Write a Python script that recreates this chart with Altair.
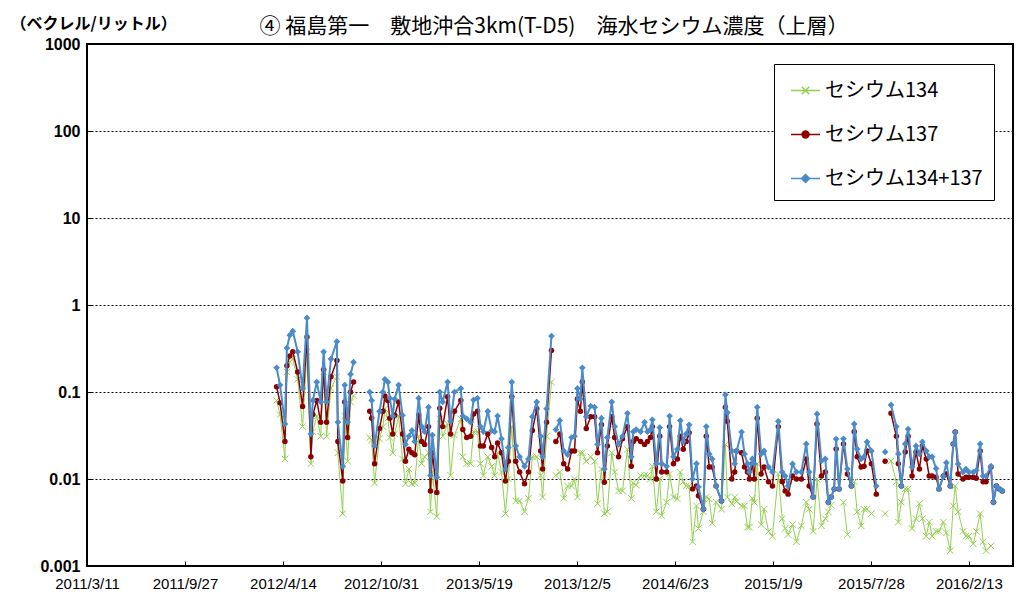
import altair as alt
import pandas as pd

TITLE = "④ 福島第一　敷地沖合3km(T-D5)　海水セシウム濃度（上層）"
UNIT_LABEL = "（ベクレル/リットル）"
SERIES = ["セシウム134", "セシウム137", "セシウム134+137"]
COLORS = ["#92D050", "#8B0000", "#4A8BC9"]
X_TICK_DAYS = [0, 200, 400, 600, 800, 1000, 1200, 1400, 1600, 1800]
X_TICK_LABELS = ["2011/3/11", "2011/9/27", "2012/4/14", "2012/10/31", "2013/5/19",
                 "2013/12/5", "2014/6/23", "2015/1/9", "2015/7/28", "2016/2/13"]
Y_TICKS = [0.001, 0.01, 0.1, 1, 10, 100, 1000]

# sampling dates as days since 2011/3/11; a row of None values marks a gap in the lines
DAYS_A = [387, 394, 404, 408, 414, 420, 430, 440, 449, 457, 461, 469, 477, 483, 489, 498, 510, 512, 522, 526, 532, 538, 544]
TOT_A = [0.19, 0.12, 0.043, 0.32, 0.45, 0.50, 0.29, 0.11, 0.71, 0.033, 0.08, 0.13, 0.077, 0.29, 0.077, 0.24, 0.38, 0.045, 0.014, 0.12, 0.045, 0.16, 0.22]
C137_A = [0.115, 0.075, 0.027, 0.20, 0.26, 0.29, 0.17, 0.068, 0.43, 0.018, 0.055, 0.08, 0.045, 0.18, 0.045, 0.15, 0.23, 0.027, 0.0095, 0.077, 0.03, 0.10, 0.13]
C134_A = [0.08, 0.055, 0.017, 0.17, 0.22, 0.24, 0.14, 0.04, 0.29, 0.015, 0.035, 0.053, 0.031, 0.17, 0.031, 0.11, 0.15, 0.02, 0.004, 0.053, 0.016, 0.077, 0.09]

DAYS_B = [577, 581, 587, 597, 604, 608, 614, 618, 624, 628, 636, 644, 650, 657, 663, 669, 677, 683, 689, 697,
          701, 705, 714, 720, 726, 736, 742, 750, 763, 767, 775, 783, 789, 797, 803, 809, 818, 826, 832, 838,
          846, 854, 860, 867, 875, 883, 893, 901, 909, 918, 926, 930, 938, 948]
TOT_B = [0.10, 0.08, 0.024, 0.06, 0.10, 0.14, 0.13, 0.085, 0.053, 0.083, 0.12, 0.054, 0.025, 0.031, 0.036, 0.027, 0.085, 0.04, 0.035, 0.067,
         0.011, 0.032, 0.0105, 0.10, 0.077, 0.13, 0.046, 0.10, 0.11, 0.053, 0.049, 0.045, 0.081, 0.085, 0.04, 0.035, 0.06, 0.036, 0.035, 0.053,
         0.029, 0.013, 0.023, 0.13, 0.024, 0.018, 0.014, 0.017, 0.052, 0.077, 0.031, 0.018, 0.064, 0.44]
C137_B = [0.06, 0.05, 0.015, 0.038, 0.06, 0.09, 0.08, 0.05, 0.033, 0.054, 0.077, 0.033, 0.016, 0.022, 0.02, 0.019, 0.054, 0.027, 0.025, 0.04,
          0.0073, 0.02, 0.007, 0.065, 0.04, 0.088, 0.033, 0.06, 0.08, 0.037, 0.03, 0.031, 0.056, 0.06, 0.024, 0.024, 0.033, 0.023, 0.018, 0.026,
          0.02, 0.0095, 0.016, 0.088, 0.016, 0.012, 0.0088, 0.012, 0.036, 0.064, 0.021, 0.013, 0.045, 0.30]
C134_B = [0.03, 0.028, 0.009, 0.029, 0.04, 0.064, 0.05, 0.03, 0.02, 0.033, 0.053, 0.017, 0.0088, 0.013, 0.0088, 0.009, 0.031, 0.015, 0.018, 0.02,
          0.0042, 0.012, 0.0037, 0.049, 0.031, 0.043, 0.011, 0.032, 0.049, 0.018, 0.015, 0.015, 0.035, 0.035, 0.015, 0.011, 0.018, 0.014, 0.011, 0.02,
          0.012, 0.004, 0.01, 0.04, 0.0056, 0.0056, 0.0042, 0.006, 0.018, 0.018, 0.011, 0.0062, 0.031, 0.13]

DAYS_C = [957, 965, 973, 981, 989, 995, 1001, 1007, 1011, 1019,
          1028, 1036, 1042, 1050, 1056, 1062, 1071, 1077, 1085, 1093,
          1103, 1111, 1115, 1121, 1130, 1138, 1144, 1150, 1154, 1162,
          1169, 1173, 1183, 1189, 1197, 1205, 1211, 1217, 1223, 1229,
          1236, 1244, 1248, 1258, 1264, 1270, 1276, 1284, 1295, 1303,
          1307, 1316, 1322, 1326, 1336, 1342, 1348, 1352, 1358, 1362,
          1368, 1376, 1382, 1391, 1399, 1411, 1419, 1425, 1431, 1440,
          1448, 1458, 1468, 1474, 1482, 1490, 1499, 1507, 1513, 1519,
          1525, 1529, 1535, 1544, 1552, 1560, 1566, 1572, 1580, 1586,
          1592, 1601, 1611]
TOT_C = [0.037, 0.047, 0.021, 0.019, 0.030, 0.031, 0.11, 0.083, 0.19, 0.052,
         0.069, 0.067, 0.025, 0.05, 0.013, 0.030, 0.077, 0.04, 0.025, 0.031,
         0.057, 0.018, 0.035, 0.037, 0.035, 0.045, 0.035, 0.037, 0.048, 0.015,
         0.039, 0.015, 0.014, 0.053, 0.018, 0.022, 0.047, 0.027, 0.033, 0.042,
         0.01, 0.015, 0.0081, 0.0045, 0.04, 0.0194, 0.017, 0.0083, 0.0056, 0.093,
         0.058, 0.021, 0.015, 0.021, 0.0347, 0.0194, 0.015, 0.012, 0.017, 0.0149,
         0.067, 0.0194, 0.021, 0.0137, 0.012, 0.046, 0.012, 0.0108, 0.0083, 0.0149,
         0.012, 0.012, 0.0253, 0.012, 0.0062, 0.056, 0.0161, 0.017, 0.0054, 0.0062,
         0.0077, 0.0288, 0.0077, 0.029, 0.013, 0.0083, 0.043, 0.0221, 0.017, 0.018,
         0.0267, 0.021, 0.0083]
C137_C = [0.027, 0.033, 0.015, 0.013, 0.021, 0.021, 0.083, 0.06, 0.13, 0.038,
          0.052, 0.052, 0.02, 0.042, 0.0092, 0.024, 0.052, 0.03, 0.018, 0.029,
          0.04, 0.014, 0.027, 0.029, 0.027, 0.025, 0.027, 0.03, 0.04, 0.01,
          0.031, 0.012, 0.012, 0.04, 0.015, 0.017, 0.031, 0.022, 0.027, 0.034,
          0.0077, 0.0083, 0.0064, 0.0045, 0.031, 0.0137, 0.0137, 0.0083, 0.0056, 0.067,
          0.046, 0.01, 0.012, 0.021, 0.02, 0.0137, 0.012, 0.01, 0.0149, 0.01,
          0.05, 0.0114, 0.0137, 0.0093, 0.0083, 0.04, 0.0093, 0.0073, 0.0067, 0.0108,
          0.01, 0.01, 0.017, 0.0083, 0.0062, 0.043, 0.0108, 0.012, 0.0054, 0.0062,
          0.0077, 0.0221, 0.0077, 0.0253, 0.0114, 0.0083, 0.035, 0.018, 0.0137, 0.014,
          0.021, 0.015, 0.0067]
C134_C = [0.011, 0.012, 0.006, 0.0083, 0.0083, 0.01, 0.0062, 0.02, 0.02, 0.016,
          0.018, 0.016, 0.0052, 0.013, 0.004, 0.0042, 0.02, 0.012, 0.0073, 0.0073,
          0.022, 0.006, 0.009, 0.0085, 0.011, 0.011, 0.011, 0.01, 0.014, 0.0042,
          0.01, 0.0038, 0.0054, 0.0114, 0.0062, 0.0059, 0.012, 0.0093, 0.0083, 0.0083,
          0.0019, 0.0049, 0.0027, 0.0042, 0.0062, 0.0059, 0.0031, 0.0054, 0.0045, 0.025,
          0.0062, 0.0052, 0.0062, 0.0055, 0.0049, 0.0049, 0.0028, 0.0028, 0.006, 0.0054,
          0.015, 0.003, 0.0045, 0.0025, 0.0022, 0.0114, 0.0035, 0.0027, 0.0023, 0.003,
          0.0019, 0.0029, 0.0054, 0.0045, 0.0025, 0.01, 0.0029, 0.0035, 0.0042, 0.005,
          None, None, None, 0.0054, 0.0023, None, 0.0093, 0.0042, 0.0029, 0.0045,
          0.0045, 0.004, None]

DAYS_D = [1629]
TOT_D = [0.0205]
C137_D = [0.016]
C134_D = [0.004]

DAYS_E = [1641, 1652, 1656, 1662, 1670, 1676, 1684, 1692, 1699, 1705,
          1713, 1719, 1725, 1733, 1739, 1748, 1754, 1762, 1768, 1772,
          1778, 1788, 1794, 1800, 1809, 1815, 1823, 1829, 1835, 1845,
          1850, 1856, 1862, 1868]
TOT_E = [0.071, 0.04, 0.0194, 0.0083, 0.0253, 0.0375, 0.0137, 0.024, 0.0194, 0.0267,
         0.021, 0.018, 0.018, 0.0132, 0.0077, 0.0108, 0.0154, 0.0083, 0.0253, 0.0347,
         0.0149, 0.012, 0.013, 0.012, 0.012, 0.0125, 0.0253, 0.0108, 0.0108, 0.014,
         0.0054, 0.0083, 0.0077, 0.0073]
C137_E = [0.057, 0.031, 0.015, 0.0083, 0.0205, 0.031, 0.0108, 0.0205, 0.013, 0.024,
          0.017, 0.0108, 0.0108, 0.0105, 0.0077, 0.0108, 0.0114, 0.0083, 0.0253, 0.0347,
          0.0114, 0.01, 0.0105, 0.0105, 0.0105, 0.0102, 0.021, 0.0093, 0.0093, 0.0137,
          0.0054, 0.0083, 0.0077, 0.0073]
C134_E = [0.0161, 0.0093, 0.0032, 0.0054, 0.0077, 0.0077, 0.0027, 0.0035, 0.0052, 0.0035,
          0.0022, 0.0032, 0.0022, 0.0025, 0.0025, 0.0032, 0.0024, 0.0015, 0.0049, 0.0083,
          0.0042, 0.0025, 0.0022, 0.0022, 0.0018, 0.0025, 0.004, 0.0019, 0.0015, 0.0017,
          None, None, None, None]

GAP = [None]
DAYS = DAYS_A + [560] + DAYS_B + [952] + DAYS_C + [1620] + DAYS_D + [1635] + DAYS_E
CS_TOTAL = TOT_A + GAP + TOT_B + GAP + TOT_C + GAP + TOT_D + GAP + TOT_E
CS137 = C137_A + GAP + C137_B + GAP + C137_C + GAP + C137_D + GAP + C137_E
CS134 = C134_A + GAP + C134_B + GAP + C134_C + GAP + C134_D + GAP + C134_E
assert len(DAYS) == len(CS_TOTAL) == len(CS137) == len(CS134)

rows = []
for name, vals in zip(SERIES, [CS134, CS137, CS_TOTAL]):
    seg = 0
    for d, v in zip(DAYS, vals):
        if v is None:
            seg += 1
            continue
        rows.append({"day": d, "value": v, "series": name, "seg": f"{name}-{seg}"})
df = pd.DataFrame(rows)

label_arr = "[" + ",".join(f"'{s}'" for s in X_TICK_LABELS) + "]"
day_arr = "[" + ",".join(str(d) for d in X_TICK_DAYS) + "]"
x_label_expr = f"{label_arr}[indexof({day_arr}, datum.value)]"

X = alt.X("day:Q",
          scale=alt.Scale(domain=[0, 1890], nice=False, zero=False),
          axis=alt.Axis(values=X_TICK_DAYS, labelExpr=x_label_expr, title=None, grid=False,
                        domain=False, ticks=True, tickSize=5, tickColor="black", offset=-5,
                        labelPadding=10, labelFont="Liberation Sans", labelFontSize=15,
                        labelColor="black", labelAngle=0, labelFlush=False, labelOverlap=False))
Y = alt.Y("value:Q",
          scale=alt.Scale(type="log", domain=[0.001, 1000], nice=False),
          axis=alt.Axis(values=Y_TICKS, format="~g", title=UNIT_LABEL, titleAngle=0,
                        titleX=-82, titleY=-21, titleAlign="left", titleBaseline="middle",
                        titleFont="Noto Sans CJK JP", titleFontSize=16, titleFontWeight="bold",
                        titleColor="black",
                        grid=True, gridColor="black", gridDash=[2, 2], gridWidth=1,
                        domain=False, ticks=True, tickSize=5, tickColor="black", offset=-5,
                        labelPadding=7, labelFont="Liberation Sans", labelFontSize=16,
                        labelFontWeight="bold", labelColor="black"))

MARKERS = {
    SERIES[0]: dict(shape="M-1,-1L1,1M-1,1L1,-1", size=42, filled=False, strokeWidth=1),
    SERIES[1]: dict(shape="circle", size=30, filled=True),
    SERIES[2]: dict(shape="diamond", size=45, filled=True),
}
LINE_WIDTHS = [1, 1.5, 2]
LEGEND_PATHS = [
    "M-1,0L1,0M-0.26,-0.26L0.26,0.26M-0.26,0.26L0.26,-0.26",
    "M-1,0L1,0M-0.24,0A0.24,0.24,0,1,0,0.24,0A0.24,0.24,0,1,0,-0.24,0Z",
    "M-1,0L1,0M0,-0.28L0.28,0L0,0.28L-0.28,0Z",
]

base = alt.Chart(df)
layers = []
for name, color, lw in zip(SERIES, COLORS, LINE_WIDTHS):
    sub = base.transform_filter(alt.datum.series == name)
    layers.append(sub.mark_line(color=color, strokeWidth=lw).encode(x=X, y=Y, detail="seg:N"))
    layers.append(sub.mark_point(color=color, opacity=1, **MARKERS[name]).encode(x=X, y=Y))

leg = alt.Legend(title=None, orient="none", legendX=687, legendY=20, direction="vertical",
                 symbolSize=841, symbolStrokeWidth=1.5, labelFont="Noto Sans CJK JP",
                 labelFontSize=20, labelColor="black", strokeColor="black", fillColor="white",
                 padding=11, rowPadding=18, symbolOffset=5, labelOffset=4, cornerRadius=0,
                 labelLimit=400)
legend_layer = base.transform_filter("false").mark_point(filled=True, opacity=1).encode(
    fill=alt.Fill("series:N", scale=alt.Scale(domain=SERIES, range=COLORS), legend=leg),
    stroke=alt.Stroke("series:N", scale=alt.Scale(domain=SERIES, range=COLORS), legend=leg),
    shape=alt.Shape("series:N", scale=alt.Scale(domain=SERIES, range=LEGEND_PATHS), legend=leg),
)

chart = alt.layer(*layers, legend_layer).properties(
    width=926, height=522,
    title=alt.TitleParams(TITLE, font="Noto Sans CJK JP", fontSize=21, fontWeight="normal",
                          anchor="middle", frame="group", dx=4, dy=22, offset=0, color="black"),
    autosize=alt.AutoSizeParams(type="none"),
    padding={"left": 79, "top": 36, "right": 1, "bottom": 29},
    background="white",
).configure_view(stroke="black", strokeWidth=2)

chart.save("out.html", embed_options={"renderer": "svg", "actions": False})
